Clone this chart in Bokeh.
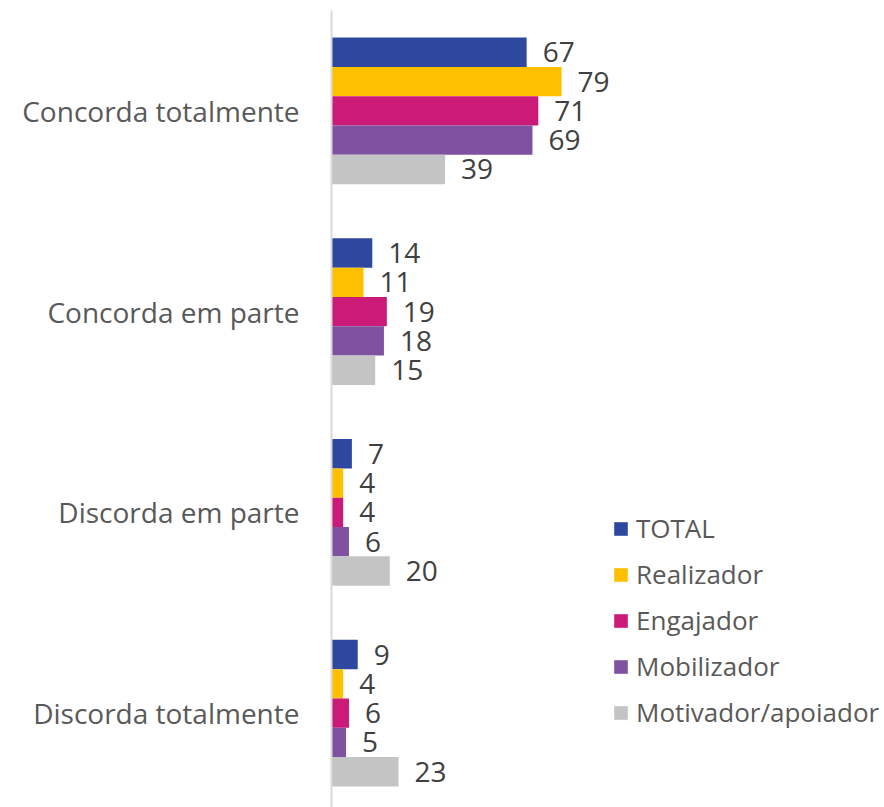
from bokeh.plotting import figure
from bokeh.models import Range1d, FixedTicker, Legend, LegendItem, ColumnDataSource
from bokeh.transform import dodge
from bokeh.core.properties import value
from bokeh.embed import file_html
from bokeh.resources import INLINE

categories = ["Concorda totalmente", "Concorda em parte", "Discorda em parte", "Discorda totalmente"]
series_names = ["TOTAL", "Realizador", "Engajador", "Mobilizador", "Motivador/apoiador"]
total = [67, 14, 7, 9]
realizador = [79, 11, 4, 4]
engajador = [71, 19, 4, 6]
mobilizador = [69, 18, 6, 5]
motivador = [39, 15, 20, 23]
colors = ["#2E479F", "#FFC000", "#CB1A77", "#7E52A0", "#C4C4C4"]

series_values = [total, realizador, engajador, mobilizador, motivador]
positions = [i + 0.5 for i in range(len(categories))]

FONT = "Open Sans"
BAR_H = 0.146

p = figure(width=880, height=807, output_backend="svg", toolbar_location=None,
           x_range=Range1d(0, 188.5), y_range=Range1d(3.97, 0),
           x_axis_location=None, min_border_left=331, min_border_top=10,
           min_border_bottom=0, min_border_right=0)
p.outline_line_color = None
p.xgrid.grid_line_color = None
p.ygrid.grid_line_color = None
p.background_fill_color = "white"
p.border_fill_color = "white"

yaxis = p.yaxis[0]
yaxis.ticker = FixedTicker(ticks=positions)
yaxis.major_label_overrides = {pos: c for pos, c in zip(positions, categories)}
yaxis.major_tick_line_color = None
yaxis.minor_tick_line_color = None
yaxis.axis_line_color = "#D9D9D9"
yaxis.axis_line_width = 2
yaxis.major_label_text_font = FONT
yaxis.major_label_text_font_size = "28px"
yaxis.major_label_text_color = "#595959"
yaxis.major_label_standoff = 26

items = []
for j, (name, vals, col) in enumerate(zip(series_names, series_values, colors)):
    src = ColumnDataSource(dict(pos=positions, v=vals, lab=[str(x) for x in vals]))
    off = (j - 2) * BAR_H
    r = p.hbar(y=dodge("pos", off, range=p.y_range), right="v", left=0, height=BAR_H,
               source=src, fill_color=col, line_color=None)
    p.text(x="v", y=dodge("pos", off, range=p.y_range), text="lab", source=src,
           x_offset=16, text_baseline="middle", text_align="left",
           text_font=value(FONT), text_font_size="28px", text_color="#404040")
    items.append(LegendItem(label=name, renderers=[r]))

legend = Legend(items=items, location=(281, 77), orientation="vertical",
                glyph_width=17, glyph_height=17, label_standoff=7,
                label_text_font=FONT, label_text_font_size="26px",
                label_text_color="#595959", label_height=35, spacing=10,
                padding=0, margin=0, border_line_color=None,
                background_fill_alpha=0)
p.add_layout(legend, "center")

open("out.html", "w").write(file_html(p, INLINE))
